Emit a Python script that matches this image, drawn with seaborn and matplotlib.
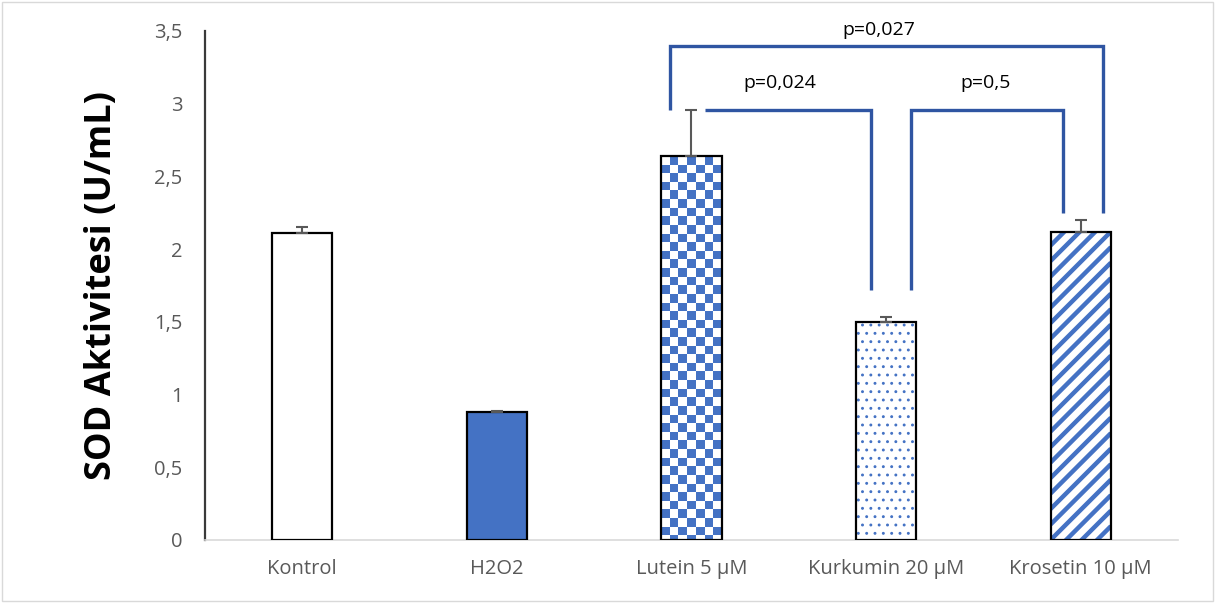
import numpy as np
import pandas as pd
import matplotlib
matplotlib.use("Agg")
import matplotlib.pyplot as plt
from matplotlib.patches import Rectangle
from matplotlib.colors import ListedColormap
import seaborn as sns

# Group labels, mean SOD activity and upper error (SD)
groups = ["Kontrol", "H2O2", "Lutein 5 µM", "Kurkumin 20 µM", "Krosetin 10 µM"]
sod_mean = [2.11, 0.88, 2.64, 1.50, 2.12]
sod_err = [0.04, 0.005, 0.32, 0.03, 0.08]

# Significance comparison labels
bracket_labels = ["p=0,027", "p=0,024", "p=0,5"]

y_ticks = [0, 0.5, 1, 1.5, 2, 2.5, 3, 3.5]
y_tick_labels = ["0", "0,5", "1", "1,5", "2", "2,5", "3", "3,5"]

BLUE = "#4472C4"
LINE_BLUE = "#2F55A2"
GRAY = "#595959"

sns.set_theme(style="white")
plt.rcParams["font.family"] = ["Open Sans", "DejaVu Sans"]

fig = plt.figure(figsize=(12.17, 6.03), dpi=100)
ax = fig.add_axes([0.1684, 0.1045, 0.7996, 0.8441])

df = pd.DataFrame({"group": groups, "sod": sod_mean})
sns.barplot(data=df, x="group", y="sod", ax=ax, width=0.31,
            color="white", errorbar=None, saturation=1)

ax.set_xlim(-0.5, 4.5)
ax.set_ylim(0, 3.5)

bars = list(ax.patches)
fills = ["white", BLUE, "white", "white", "white"]
for bar, fc in zip(bars, fills):
    bar.set_facecolor(fc)
    bar.set_edgecolor("black")
    bar.set_linewidth(1.6)
    bar.set_zorder(3)

# pixel size of one data unit on each axis
px_x = ax.transData.transform((1, 0))[0] - ax.transData.transform((0, 0))[0]
px_y = ax.transData.transform((0, 1))[1] - ax.transData.transform((0, 0))[1]

# Kurkumin: dotted fill
kb = bars[3]
dots = Rectangle((kb.get_x(), 0), kb.get_width(), kb.get_height(),
                 facecolor="white", edgecolor=BLUE, linewidth=0, hatch="..",
                 zorder=2)
if hasattr(dots, "set_hatch_linewidth"):
    dots.set_hatch_linewidth(0.9)
ax.add_patch(dots)
kb.set_facecolor("none")

# Krosetin: upward diagonal stripes
sb = bars[4]
sx0, sw, sh = sb.get_x(), sb.get_width(), sb.get_height()
stripe_clip = Rectangle((sx0, 0), sw, sh, transform=ax.transData)
gap = 15.5 / px_y          # vertical distance between stripes
slope = px_x / px_y        # 45 degrees on screen
n0 = -int(sw * slope / gap) - 2
for k in range(n0, int(sh / gap) + 3):
    y0 = k * gap
    ln, = ax.plot([sx0, sx0 + sw], [y0, y0 + sw * slope], color=BLUE,
                  linewidth=3.2, solid_capstyle="butt", zorder=2)
    ln.set_clip_path(stripe_clip)
sb.set_facecolor("none")

# Lutein: checkerboard fill
lb = bars[2]
x0, w, h = lb.get_x(), lb.get_width(), lb.get_height()
ncols = 7
cell_px = w * px_x / ncols
nrows = int(round(h * px_y / cell_px))
rows, cols = np.indices((nrows, ncols))
checker = ((rows + cols) % 2).astype(float)
im = ax.imshow(checker, extent=[x0, x0 + w, h - nrows * cell_px / px_y, h],
               cmap=ListedColormap(["white", BLUE]), interpolation="nearest",
               aspect="auto", zorder=2, origin="upper")
lb.set_facecolor("none")
im.set_clip_path(Rectangle((x0, 0), w, h, transform=ax.transData))

# Upper error bars
xs = np.arange(len(groups))
ax.errorbar(xs, sod_mean, yerr=[np.zeros(len(groups)), sod_err], fmt="none",
            ecolor=GRAY, elinewidth=1.5, capsize=4.5, capthick=1.5, zorder=4)

ax.set_xlim(-0.5, 4.5)
ax.set_ylim(0, 3.5)
ax.set_yticks(y_ticks)
ax.set_yticklabels(y_tick_labels)
ax.tick_params(axis="both", length=0, labelsize=14.5, labelcolor=GRAY)
ax.tick_params(axis="y", pad=16)
ax.tick_params(axis="x", pad=14)
ax.set_xlabel("")
ax.set_ylabel("SOD Aktivitesi (U/mL)", fontsize=26, fontweight="bold",
              color="black", labelpad=25)

for s in ["top", "right"]:
    ax.spines[s].set_visible(False)
ax.spines["left"].set_color("#3a3a3a")
ax.spines["left"].set_linewidth(1.6)
ax.spines["bottom"].set_color("#D9D9D9")
ax.spines["bottom"].set_linewidth(1.2)

# Significance brackets
brackets = [
    ([2 - 0.108, 2 - 0.108, 4 + 0.112, 4 + 0.112], [2.96, 3.40, 3.40, 2.25]),
    ([2 + 0.068, 3 - 0.08, 3 - 0.08], [2.96, 2.96, 1.72]),
    ([3 + 0.128, 3 + 0.128, 4 - 0.09, 4 - 0.09], [1.72, 2.96, 2.96, 2.25]),
]
label_pos = [(2.96, 3.51), (2.456, 3.14), (3.51, 3.14)]
for (bx, by), lab, (tx, ty) in zip(brackets, bracket_labels, label_pos):
    ax.plot(bx, by, color=LINE_BLUE, linewidth=2.4, solid_joinstyle="miter",
            solid_capstyle="butt", clip_on=False, zorder=5)
    ax.text(tx, ty, lab, ha="center", va="center", fontsize=14,
            color="black", clip_on=False)

# Light frame around the chart area
fig.patches.append(Rectangle((0.002, 0.003), 0.995, 0.993, transform=fig.transFigure,
                             fill=False, edgecolor="#D9D9D9", linewidth=1.0))

fig.savefig("out.png", dpi=100)
